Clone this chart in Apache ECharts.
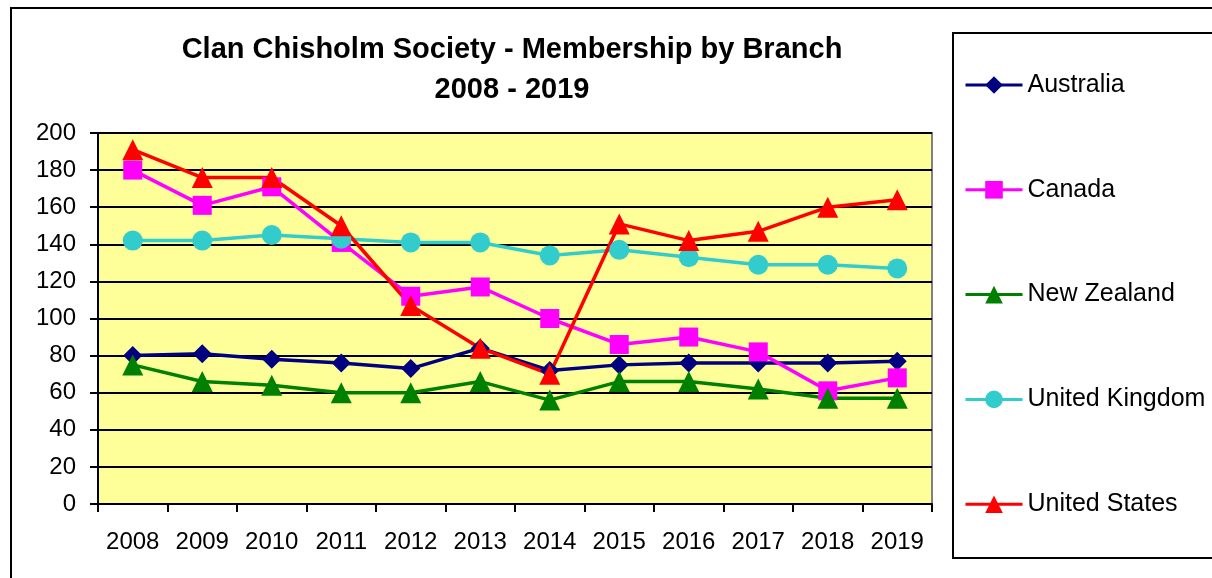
<!DOCTYPE html>
<html>
<head>
<meta charset="utf-8">
<title>Clan Chisholm Society - Membership by Branch</title>
<script src="https://cdn.jsdelivr.net/npm/echarts@6/dist/echarts.min.js"></script>
<style>
  html, body { margin: 0; padding: 0; background: #fff; }
  #chart { width: 1212px; height: 578px; }
</style>
</head>
<body>
<div id="chart"></div>
<script>
// data
const years = ['2008', '2009', '2010', '2011', '2012', '2013', '2014', '2015', '2016', '2017', '2018', '2019'];
const australia = [80, 81, 78, 76, 73, 84, 72, 75, 76, 76, 76, 77];
const canada = [180, 161, 171, 141, 112, 117, 100, 86, 90, 82, 61, 68];
const newZealand = [75, 66, 64, 60, 60, 66, 56, 66, 66, 62, 57, 57];
const unitedKingdom = [142, 142, 145, 143, 141, 141, 134, 137, 133, 129, 129, 127];
const unitedStates = [191, 176, 176, 150, 107, 84, 70, 151, 142, 147, 160, 164];

const font = 'Liberation Sans, Arial, sans-serif';

function line(name, data, color, symbol, size) {
  return {
    name: name,
    type: 'line',
    data: data,
    symbol: symbol,
    symbolSize: size,
    lineStyle: { color: color, width: 3.5 },
    itemStyle: { color: color },
    emphasis: { disabled: true },
    animation: false
  };
}

const chart = echarts.init(document.getElementById('chart'));
chart.setOption({
  backgroundColor: '#fff',
  textStyle: { fontFamily: font },
  graphic: [
    // outer chart border
    { type: 'rect', shape: { x: 11, y: 8, width: 1400, height: 800 },
      style: { fill: 'none', stroke: '#000', lineWidth: 2 }, z: -1 },
    // legend box
    { type: 'rect', shape: { x: 953, y: 33, width: 400, height: 525 },
      style: { fill: '#fff', stroke: '#000', lineWidth: 2 }, z: -1 }
  ],
  title: {
    text: 'Clan Chisholm Society - Membership by Branch\n2008 - 2019',
    left: 512,
    textAlign: 'center',
    top: 30,
    padding: 0,
    textStyle: { fontFamily: font, fontWeight: 'bold', fontSize: 29, lineHeight: 40, color: '#000' }
  },
  legend: {
    orient: 'vertical',
    left: 964,
    top: 72,
    padding: 0,
    itemGap: 78.8,
    itemWidth: 57,
    itemHeight: 22,
    lineStyle: { width: 3 },
    textStyle: { fontFamily: font, fontSize: 25, lineHeight: 26, color: '#000' },
    selectedMode: false
  },
  grid: {
    left: 98,
    top: 133,
    right: 280,
    bottom: 74,
    show: true,
    backgroundColor: '#FFFF99',
    borderColor: '#808080',
    borderWidth: 2
  },
  xAxis: {
    type: 'category',
    data: years,
    boundaryGap: true,
    axisLine: { lineStyle: { color: '#000', width: 2 } },
    axisTick: { show: true, length: 8, lineStyle: { color: '#000', width: 2 } },
    axisLabel: { fontFamily: font, fontSize: 24, color: '#000', margin: 26, interval: 0 },
    splitLine: { show: false }
  },
  yAxis: {
    type: 'value',
    min: 0,
    max: 200,
    interval: 20,
    axisLine: { show: true, lineStyle: { color: '#000', width: 2 } },
    axisTick: { show: true, length: 8, lineStyle: { color: '#000', width: 2 } },
    axisLabel: { fontFamily: font, fontSize: 24, color: '#000', margin: 22 },
    splitLine: { show: true, lineStyle: { color: '#000', width: 2 } }
  },
  series: [
    line('Australia', australia, '#000080', 'diamond', 19),
    line('Canada', canada, '#FF00FF', 'rect', 19),
    line('New Zealand', newZealand, '#008000', 'triangle', 21),
    line('United Kingdom', unitedKingdom, '#33CCCC', 'circle', 20),
    line('United States', unitedStates, '#FF0000', 'triangle', 21)
  ]
});
</script>
</body>
</html>
